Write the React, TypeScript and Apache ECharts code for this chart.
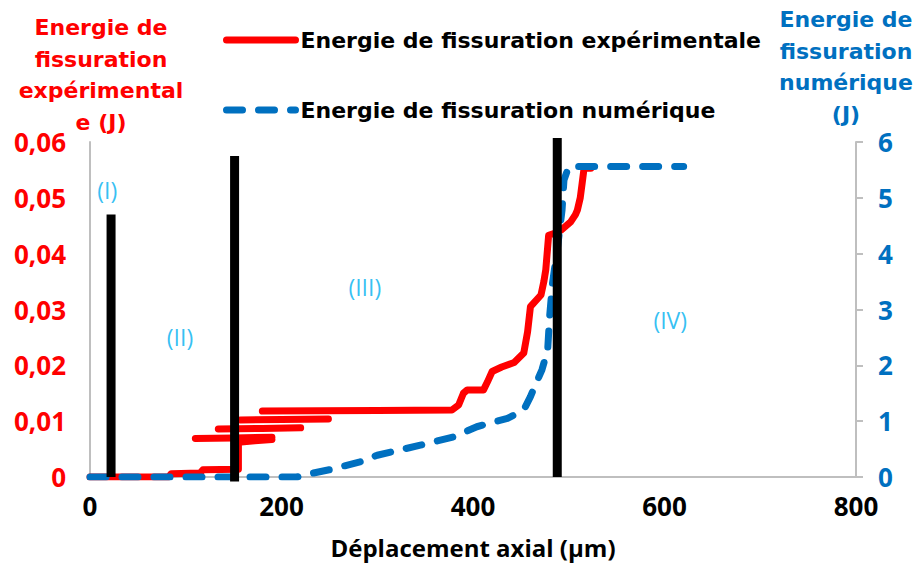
import React, { useEffect, useRef } from "react";
import * as echarts from "echarts";

// Experimental cracking energy (J) – left axis (null = break between unloading/reloading strokes)
const expX = [0, 82, 85, 115, 118, 155, 155, 172, 190, null, 110, 150, 190, null, 134, 180, 220, null, 157, 200, 249, null, 180, 300, 378, 385, 390, 394, 411, 415, 420, 430, 443, 453, 457, 460, 471, 474, 476, 479, 486, 492, 502, 507, 509, 512, 514, 516, 523];
const expY = [0, 0, 0.0006, 0.0007, 0.0013, 0.0014, 0.0062, 0.0065, 0.0067, null, 0.0069, 0.0070, 0.0071, null, 0.0086, 0.0087, 0.0088, null, 0.0102, 0.0103, 0.0104, null, 0.0118, 0.0119, 0.0120, 0.0129, 0.0150, 0.0156, 0.0156, 0.0170, 0.0189, 0.0197, 0.0205, 0.0222, 0.0260, 0.0305, 0.0326, 0.0350, 0.0371, 0.0433, 0.0437, 0.0442, 0.0457, 0.0470, 0.0478, 0.0500, 0.0526, 0.0553, 0.0553];

// Numerical cracking energy (J) – right axis
const numX = [0, 216, 233, 250, 268, 282, 300, 345, 380, 404, 436, 453, 460, 472, 478, 480, 483, 488, 493, 495, 500, 620];
const numY = [0, 0, 0.07, 0.13, 0.21, 0.27, 0.39, 0.57, 0.72, 0.90, 1.05, 1.20, 1.44, 1.92, 2.28, 2.87, 3.47, 4.07, 4.78, 5.32, 5.56, 5.56];

// Phase boundary bars (x position, bottom and top values on left axis)
const barX = [22, 151, 488];
const barBottom = [0, -0.0008, 0];
const barTop = [0.047, 0.0575, 0.0607];

// Phase labels
const phaseNames = ["(I)", "(II)", "(III)", "(IV)"];
const phaseX = [18, 94, 287, 606];
const phaseY = [0.0514, 0.0251, 0.034, 0.0281];

const xTicks = [0, 200, 400, 600, 800];

const SERIES_EXP = "Energie de fissuration expérimentale";
const SERIES_NUM = "Energie de fissuration numérique";

const titleFont = "'DejaVu Sans', sans-serif";
const axisFont = "'Open Sans', sans-serif";

export default function App() {
  const ref = useRef<HTMLDivElement>(null);

  useEffect(() => {
    document.body.style.margin = "0";
    if (!ref.current) return;
    const chart = echarts.init(ref.current, null, { renderer: "svg" });

    const expData = expX.map((x, i) => (x === null || expY[i] === null ? ["-", "-"] : [x, expY[i]]));
    const numData = numX.map((x, i) => [x, numY[i]]);

    const barSeries = barX.map((x, i) => ({
      type: "line",
      yAxisIndex: 0,
      data: [[x, barBottom[i]], [x, barTop[i]]],
      symbol: "none",
      clip: false,
      silent: true,
      z: 5,
      lineStyle: { color: "#000", width: 9, cap: "butt" },
    }));

    const legendBase = {
      left: 218,
      itemWidth: 69,
      itemHeight: 14,
      itemGap: 0,
      itemStyle: { opacity: 0 },
      textStyle: { fontFamily: titleFont, fontSize: 22, fontWeight: "bold", color: "#000", padding: [0, 0, 0, 0] },
    };

    const option: any = {
      animation: false,
      grid: { left: 90, right: 59, top: 142, bottom: 88, containLabel: false, outerBoundsMode: "none" },
      legend: [
        {
          ...legendBase,
          data: [SERIES_EXP],
          top: 24,
          lineStyle: { width: 7, cap: "round", color: "#FF0000" },
        },
        {
          ...legendBase,
          data: [SERIES_NUM],
          top: 94,
          lineStyle: { width: 7, cap: "round", type: [16, 16], color: "#0070C0" },
        },
      ],
      xAxis: {
        type: "value",
        min: 0,
        max: 800,
        interval: 200,
        name: "Déplacement axial (µm)",
        nameLocation: "middle",
        nameGap: 58,
        nameTextStyle: { fontFamily: axisFont, fontSize: 24, fontWeight: "bold", color: "#000" },
        axisLine: { show: true, lineStyle: { color: "#BFBFBF", width: 2 } },
        axisTick: { show: false },
        splitLine: { show: false },
        axisLabel: {
          fontFamily: axisFont,
          fontSize: 26,
          fontWeight: "bold",
          color: "#000",
          margin: 16,
          formatter: (v: number) => (xTicks.includes(v) ? String(v) : ""),
        },
      },
      yAxis: [
        {
          type: "value",
          min: 0,
          max: 0.06,
          interval: 0.01,
          axisLine: { show: true, lineStyle: { color: "#BFBFBF", width: 2 } },
          axisTick: { show: false },
          splitLine: { show: false },
          axisLabel: {
            fontFamily: axisFont,
            fontSize: 26,
            fontWeight: "bold",
            color: "#FF0000",
            margin: 24,
            formatter: (v: number) => (v === 0 ? "0" : v.toFixed(2).replace(".", ",")),
          },
        },
        {
          type: "value",
          min: 0,
          max: 6,
          interval: 1,
          position: "right",
          axisLine: { show: true, lineStyle: { color: "#BFBFBF", width: 2 } },
          axisTick: { show: true, length: 7, lineStyle: { color: "#BFBFBF", width: 2 } },
          splitLine: { show: false },
          axisLabel: {
            fontFamily: axisFont,
            fontSize: 26,
            fontWeight: "bold",
            color: "#0070C0",
            margin: 22,
          },
        },
      ],
      graphic: [
        {
          type: "text",
          x: 101,
          y: 12,
          z: 10,
          style: {
            text: "Energie de\nfissuration\nexpérimental\ne (J)",
            fill: "#FF0000",
            font: `bold 22px ${titleFont}`,
            lineHeight: 31.5,
            align: "center",
            verticalAlign: "top",
          },
        },
        {
          type: "text",
          x: 846,
          y: 4,
          z: 10,
          style: {
            text: "Energie de\nfissuration\nnumérique\n(J)",
            fill: "#0070C0",
            font: `bold 22px ${titleFont}`,
            lineHeight: 31.5,
            align: "center",
            verticalAlign: "top",
          },
        },
      ],
      series: [
        {
          name: SERIES_EXP,
          type: "line",
          yAxisIndex: 0,
          data: expData,
          symbol: "none",
          connectNulls: false,
          z: 2,
          lineStyle: { color: "#FF0000", width: 7, cap: "round", join: "round" },
          itemStyle: { color: "#FF0000" },
        },
        {
          name: SERIES_NUM,
          type: "line",
          yAxisIndex: 1,
          data: numData,
          symbol: "none",
          z: 3,
          lineStyle: { color: "#0070C0", width: 7, type: [16, 16], cap: "round", join: "round" },
          itemStyle: { color: "#0070C0" },
        },
        ...barSeries,
        {
          type: "scatter",
          yAxisIndex: 0,
          symbolSize: 0,
          silent: true,
          z: 6,
          data: phaseNames.map((n, i) => ({ name: n, value: [phaseX[i], phaseY[i]] })),
          label: {
            show: true,
            position: "inside",
            formatter: (p: any) => p.name,
            fontFamily: axisFont,
            fontSize: 23,
            color: "#00B0F0",
          },
        },
      ],
    };

    chart.setOption(option);
    return () => chart.dispose();
  }, []);

  return <div ref={ref} style={{ width: 915, height: 565 }} />;
}
